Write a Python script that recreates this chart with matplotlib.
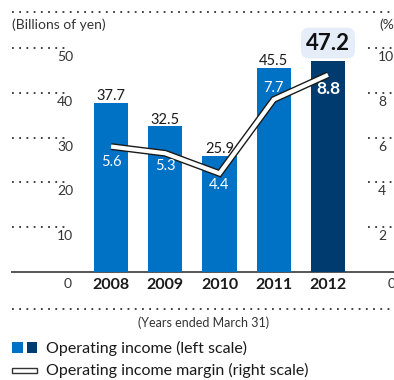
import matplotlib
matplotlib.use("Agg")
import matplotlib.pyplot as plt
import matplotlib.patheffects as pe
from matplotlib.patches import Rectangle

plt.rcParams['font.family'] = ['Lato', 'DejaVu Sans']

years = ['2008', '2009', '2010', '2011', '2012']
income = [37.7, 32.5, 25.9, 45.5, 47.2]      # billions of yen, left scale
margin = [5.6, 5.3, 4.4, 7.7, 8.8]           # %, right scale
left_ticks = [10, 20, 30, 40, 50]
right_ticks = [2, 4, 6, 8, 10]

blue = '#0072C6'
navy = '#003B70'
bar_colors = [blue, blue, blue, blue, navy]

W, H = 394, 380
fig = plt.figure(figsize=(W / 100, H / 100), dpi=100)

# main axes fills the figure; bar spacing 54.25 px, 4.48 px per billion yen
step, unit, x0, y0 = 54.25, 4.48, 111, 272
ax = fig.add_axes([0, 0, 1, 1])
ax.set_xlim(-x0 / step, (W - x0) / step)
ax.set_ylim(-(H - y0) / unit, y0 / unit)
ax.axis('off')

ax2 = ax.twinx()
lo, hi = ax.get_ylim()
ax2.set_ylim(lo / 5, hi / 5)
ax2.axis('off')

# overlay in pixel units for rules and legend
ov = fig.add_axes([0, 0, 1, 1], zorder=-1)
ov.set_xlim(0, W)
ov.set_ylim(H, 0)
ov.axis('off')

x = list(range(len(years)))
bars = ax.bar(x, income, width=0.63, color=bar_colors, zorder=2)

dots = dict(color='#333333', lw=1.3, linestyle=(0, (1, 3)))
ov.plot([12, W], [12, 12], **dots)
ov.plot([12, W], [309, 309], **dots)
ov.plot([12, W], [272, 272], color='#555555', lw=1.4)

xl = lambda px: (px - x0) / step
for t in left_ticks:
    ax.plot([xl(12), xl(68)], [t, t], **dots)
    ax.plot([xl(368), xl(W)], [t, t], **dots)
    ax.text(xl(73), t - 2, str(t), ha='right', va='center', fontsize=10, color='#333333')
for t in right_ticks:
    ax2.text(xl(378), t - 0.4, str(t), ha='left', va='center', fontsize=10, color='#333333')
ax.text(xl(72), -2.6, '0', ha='right', va='center', fontsize=10, color='#333333')
ax.text(xl(388), -2.6, '0', ha='left', va='center', fontsize=10, color='#333333')

for i, y in enumerate(years):
    ax.text(i, -2.9, y, ha='center', va='center', fontsize=11.5, fontweight='bold', color='#1a1a1a')

# value labels above bars
for i, v in enumerate(income[:-1]):
    ax.text(i, v + 1.5, f'{v:.1f}', ha='center', va='center', fontsize=10.5, color='#1a1a1a')
ax.text(4, income[4] + 3.9, f'{income[4]:.1f}', ha='center', va='center', fontsize=16,
        fontweight='bold', color='#111111',
        bbox=dict(boxstyle='round,pad=0.22,rounding_size=0.35', fc='#E4EDF8', ec='none'))

# margin line: white stroke with dark outline
ax2.plot(x, margin, color='white', lw=3, solid_capstyle='butt', solid_joinstyle='miter', zorder=3,
         path_effects=[pe.Stroke(linewidth=5, foreground='#1a1a1a', capstyle='butt'), pe.Normal()])

offsets = [-11, -9.4, -8, 8, -10.5]
for i, (m, off) in enumerate(zip(margin, offsets)):
    big = i == 4
    ax2.annotate(f'{m:.1f}', (i, m), xytext=(0, off), textcoords='offset points',
                 ha='center', va='center', color='white', zorder=4,
                 fontsize=12.5 if big else 10.5, fontweight='bold' if big else 'normal')

ov.text(12, 25, '(Billions of yen)', ha='left', va='center', fontsize=10, color='#333333')
ov.text(379, 25, '(%)', ha='left', va='center', fontsize=10, color='#333333')
ov.text(204, 323, '(Years ended March 31)', ha='center', va='center', fontsize=9, color='#333333')

# legend
ov.add_patch(Rectangle((12.5, 342), 10.5, 11, fc=blue, ec='none'))
ov.add_patch(Rectangle((27, 342), 10.5, 11, fc=navy, ec='none'))
ov.text(46, 348, 'Operating income (left scale)', ha='left', va='center', fontsize=11.5, color='#1a1a1a')
ov.add_patch(Rectangle((12.5, 367.5), 25, 5, fc='white', ec='#333333', lw=1))
ov.text(46, 370, 'Operating income margin (right scale)', ha='left', va='center', fontsize=11.5, color='#1a1a1a')

fig.savefig('out.png', dpi=100)
